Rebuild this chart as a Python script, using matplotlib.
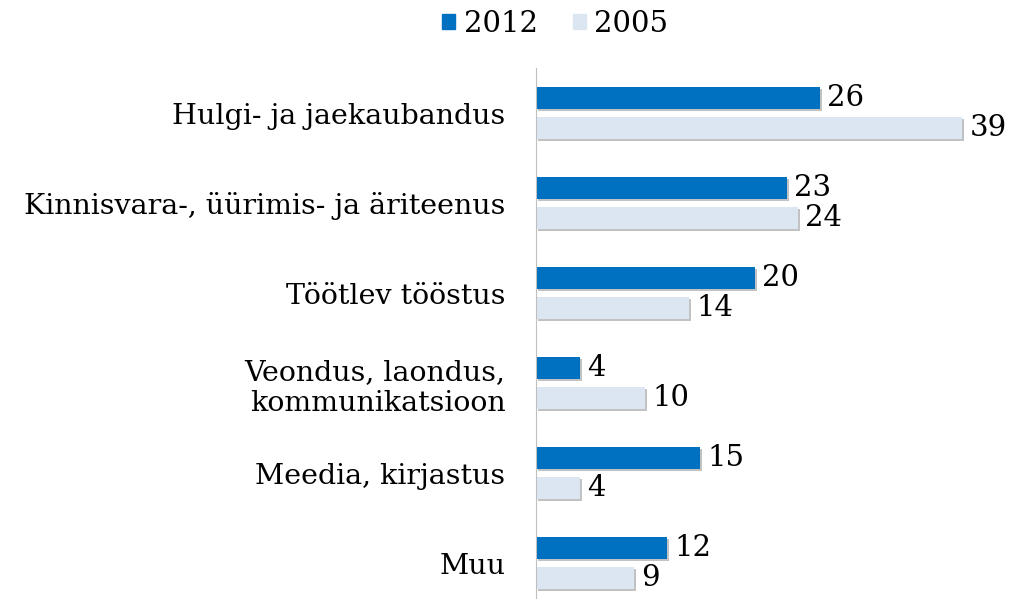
import matplotlib.pyplot as plt
import matplotlib.patheffects as pe
from matplotlib.patches import Patch
import numpy as np

# andmed
kategooriad = ["Hulgi- ja jaekaubandus", "Kinnisvara-, üürimis- ja äriteenus",
               "Töötlev tööstus", "Veondus, laondus,\nkommunikatsioon",
               "Meedia, kirjastus", "Muu"]
v2012 = [26, 23, 20, 4, 15, 12]
v2005 = [39, 24, 14, 10, 4, 9]

plt.rcParams['font.family'] = ['DejaVu Serif']

fig = plt.figure(figsize=(10.09, 5.99), dpi=100)
ax = fig.add_axes([536 / 1009, (599 - 608) / 599, 470 / 1009, 540 / 599])

y = np.arange(len(kategooriad))
h = 0.25
varjud = [pe.SimplePatchShadow(offset=(1.5, -1.5), shadow_rgbFace='#9a9a9a', alpha=0.6), pe.Normal()]
b1 = ax.barh(y - 0.167, v2012, height=h, color='#0070C0', path_effects=varjud)
b2 = ax.barh(y + 0.167, v2005, height=h, color='#DCE6F2', path_effects=varjud)

# väärtused tulpade lõppu
for bars, vals in ((b1, v2012), (b2, v2005)):
    for bar, v in zip(bars, vals):
        ax.text(bar.get_width() + 0.65, bar.get_y() + bar.get_height() / 2, str(v),
                va='center', ha='left', fontsize=21)

ax.set_ylim(len(kategooriad) - 0.5, -0.5)
ax.set_xlim(0, 43)
ax.set_yticks(y)
ax.set_yticklabels(kategooriad, fontsize=20.5, ha='right', multialignment='right')
ax.tick_params(axis='y', length=0, pad=22)
ax.set_xticks([])
for s in ['top', 'right', 'bottom']:
    ax.spines[s].set_visible(False)
ax.spines['left'].set_color('#BFBFBF')

handles = [Patch(color='#0070C0', label='2012'), Patch(color='#DCE6F2', label='2005')]
fig.legend(handles=handles, loc='center', bbox_to_anchor=(555 / 1009, 1 - 24 / 599),
           ncol=2, frameon=False, fontsize=21, handlelength=0.45, handleheight=0.45,
           handletextpad=0.3, columnspacing=1.2)

fig.savefig('out.png', dpi=100)
